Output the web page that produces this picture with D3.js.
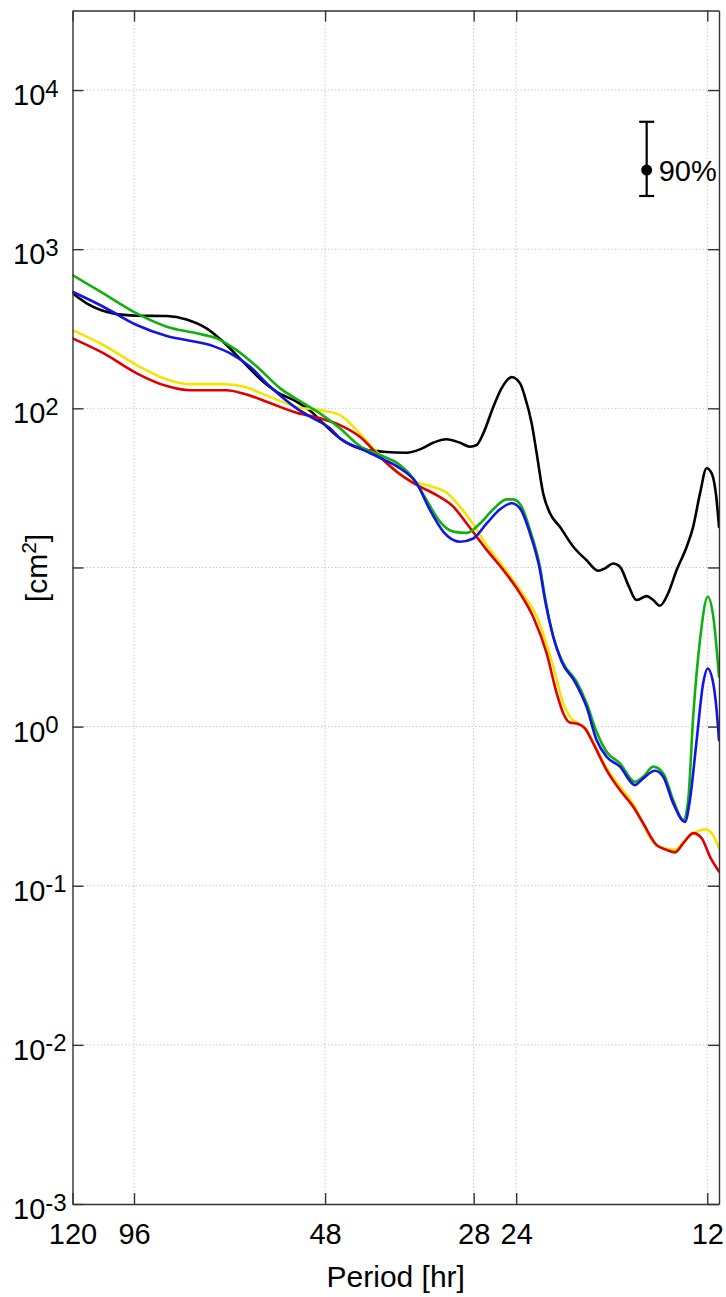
<!DOCTYPE html>
<html><head><meta charset="utf-8">
<script src="https://cdn.jsdelivr.net/npm/d3@7"></script>
<style>
body{margin:0;background:#fff}
svg{display:block}
text{font-family:"Liberation Sans",Arial,Helvetica,sans-serif;fill:#000}
</style>
</head><body>
<svg id="chart" width="726" height="1297"></svg>
<script>
// ---- data (period in hours, spectral value in cm^2) ----
const xTickPeriods = [120, 96, 48, 28, 24, 12];
const yTickValues = [1e-3, 1e-2, 1e-1, 1, 10, 100, 1e3, 1e4];
const yTickExponents = ["-3", "-2", "-1", "0", "1", "2", "3", "4"];
const yTickLabelShown = [true, true, true, true, false, true, true, true];
const xLabel = "Period [hr]";
const yLabel = "[cm";
const yLabelSup = "2";

const blackPeriod = [120, 114.0, 103.5, 95.07, 85.25, 79.34, 73.79, 69.48, 64.62, 60.07, 57.22, 53.22, 50.11, 48.91, 45.49, 42.31, 38.87, 35.71, 34.03, 32.43, 30.89, 29.43, 28.38, 27.70, 27.04, 26.08, 25.30, 24.40, 23.67, 23.25, 22.69, 22.28, 21.76, 21.23, 20.48, 19.51, 18.59, 17.82, 17.39, 16.88, 16.47, 15.98, 15.51, 14.95, 14.60, 14.25, 13.83, 13.41, 12.93, 12.63, 12.32, 12.03, 11.81, 11.60, 11.50];
const blackValue = [528, 457, 395, 382, 380, 362, 318, 262, 196, 147, 127, 110, 93.0, 84.4, 64.8, 56.0, 53.4, 52.6, 55.2, 60.8, 63.9, 60.8, 57.4, 58.8, 69.6, 102, 134, 157, 144, 118, 80.5, 52.1, 29.2, 21.9, 18.0, 13.5, 11.1, 9.54, 9.87, 10.6, 10.1, 7.75, 6.24, 6.61, 6.24, 5.75, 6.88, 9.63, 13.5, 18.0, 29.2, 42.0, 39.0, 26.5, 18.0];

const greenPeriod = [120, 107.3, 95.07, 85.25, 76.51, 71.16, 66.18, 61.49, 56.54, 51.96, 48.91, 45.49, 42.31, 39.34, 36.59, 34.87, 33.21, 31.65, 30.15, 28.72, 27.37, 26.08, 24.84, 24.26, 23.53, 22.83, 22.02, 21.62, 20.98, 20.23, 19.27, 18.59, 17.93, 17.29, 16.47, 15.60, 15.14, 14.60, 14.08, 13.58, 13.09, 12.86, 12.63, 12.32, 11.98, 11.74, 11.50];
const greenValue = [688, 528, 395, 326, 296, 275, 232, 183, 134, 108, 93.0, 74.9, 57.9, 50.9, 44.0, 36.3, 26.5, 19.4, 16.8, 16.5, 18.9, 23.2, 26.8, 26.8, 24.1, 17.2, 10.1, 6.52, 3.67, 2.50, 1.91, 1.40, 0.928, 0.695, 0.588, 0.450, 0.484, 0.560, 0.509, 0.346, 0.259, 0.346, 1.15, 3.50, 6.55, 4.90, 2.06];

const bluePeriod = [120, 107.3, 95.07, 85.25, 78.39, 72.04, 67.81, 63.07, 58.63, 53.22, 50.11, 47.16, 45.49, 42.31, 38.87, 36.59, 34.44, 32.82, 31.27, 29.43, 28.04, 26.71, 25.45, 24.40, 23.67, 22.83, 22.02, 21.62, 20.98, 20.35, 19.39, 18.59, 17.93, 17.29, 16.47, 15.60, 15.14, 14.51, 14.08, 13.58, 13.01, 12.78, 12.47, 12.18, 11.98, 11.77, 11.60, 11.50];
const blueValue = [540, 435, 334, 285, 266, 246, 222, 183, 137, 100, 86.5, 74.9, 64.8, 56.0, 47.8, 42.0, 33.8, 23.0, 16.8, 14.5, 15.2, 18.9, 23.2, 25.3, 23.5, 16.4, 9.63, 6.24, 3.67, 2.56, 1.91, 1.33, 0.823, 0.647, 0.560, 0.429, 0.473, 0.528, 0.484, 0.330, 0.252, 0.346, 0.823, 1.87, 2.32, 1.96, 1.27, 0.823];

const yellowPeriod = [120, 107.3, 95.07, 85.25, 78.39, 69.48, 64.62, 58.63, 53.22, 48.91, 45.49, 42.82, 40.31, 37.49, 35.29, 32.82, 30.89, 29.43, 28.04, 26.71, 25.15, 23.67, 22.15, 20.98, 20.23, 19.75, 19.16, 18.70, 17.29, 15.70, 14.42, 13.49, 12.93, 12.47, 12.10, 11.81, 11.50];
const yellowValue = [310, 250, 187, 152, 142, 142, 137, 118, 102, 97.5, 90.7, 73.0, 56.0, 42.0, 35.4, 32.5, 29.5, 24.1, 18.7, 13.8, 10.1, 7.21, 4.67, 2.38, 1.40, 1.15, 1.05, 0.975, 0.547, 0.326, 0.180, 0.168, 0.199, 0.218, 0.226, 0.214, 0.172];

const redPeriod = [120, 107.3, 95.07, 85.25, 78.39, 68.63, 64.62, 58.63, 53.22, 48.91, 45.49, 42.31, 39.34, 37.03, 34.44, 32.03, 30.15, 28.72, 26.71, 25.15, 23.67, 22.56, 21.49, 20.72, 20.23, 19.75, 19.16, 18.70, 18.15, 17.29, 16.47, 15.70, 15.14, 14.42, 13.91, 13.49, 13.09, 12.63, 12.25, 11.88, 11.50];
const redValue = [275, 222, 166, 138, 130, 130, 124, 108, 93.8, 86.5, 78.5, 66.3, 49.6, 40.0, 33.0, 28.5, 24.1, 18.9, 12.9, 9.63, 6.88, 4.88, 2.89, 1.62, 1.21, 1.06, 1.04, 0.975, 0.785, 0.533, 0.399, 0.314, 0.247, 0.180, 0.168, 0.162, 0.185, 0.214, 0.199, 0.152, 0.123];

// 90% confidence bar
const errPeriod = 14.95;
const errCenter = 3140;
const errLow = 2160;
const errHigh = 6320;
const errLabel = "90%";

// ---- layout ----
const L = 72.5, R = 719, T = 10.5, B = 1204;
const svg = d3.select("#chart");
svg.append("rect").attr("width", 726).attr("height", 1297).attr("fill", "#fff");

const x = d3.scaleLog().domain([120, 11.5]).range([L, R]);
const y = d3.scaleLog().domain([1e-3, Math.pow(10, 4.5)]).range([B, T]);

// grid
const grid = svg.append("g").attr("stroke", "#c4c4c4").attr("stroke-width", 0.9).attr("stroke-dasharray", "1.5,2");
grid.selectAll("line.gx").data(xTickPeriods.filter(p => p !== 120)).join("line")
  .attr("x1", d => x(d)).attr("x2", d => x(d)).attr("y1", T).attr("y2", B);
grid.selectAll("line.gy").data(yTickValues.filter(v => v > 1e-3 && v < Math.pow(10, 4.5))).join("line")
  .attr("x1", L).attr("x2", R).attr("y1", d => y(d)).attr("y2", d => y(d));

// curves
svg.append("clipPath").attr("id", "clip").append("rect")
  .attr("x", L).attr("y", T).attr("width", R - L).attr("height", B - T);

const series = [
  {color: "#000000", period: blackPeriod, value: blackValue},
  {color: "#f2e600", period: yellowPeriod, value: yellowValue},
  {color: "#e00000", period: redPeriod, value: redValue},
  {color: "#10b010", period: greenPeriod, value: greenValue},
  {color: "#1414e6", period: bluePeriod, value: blueValue}
];
const line = d3.line().x(d => x(d[0])).y(d => y(d[1])).curve(d3.curveMonotoneX);
const gLines = svg.append("g").attr("clip-path", "url(#clip)");
series.forEach(s => {
  gLines.append("path")
    .datum(s.period.map((p, i) => [p, s.value[i]]))
    .attr("fill", "none").attr("stroke", s.color).attr("stroke-width", 2.6)
    .attr("stroke-linejoin", "round").attr("stroke-linecap", "round")
    .attr("d", line);
});

// error bar
const eb = svg.append("g").attr("stroke", "#000").attr("stroke-width", 2.2);
const ex = x(errPeriod);
eb.append("line").attr("x1", ex).attr("x2", ex).attr("y1", y(errHigh)).attr("y2", y(errLow));
eb.append("line").attr("x1", ex - 7.5).attr("x2", ex + 7.5).attr("y1", y(errHigh)).attr("y2", y(errHigh));
eb.append("line").attr("x1", ex - 7.5).attr("x2", ex + 7.5).attr("y1", y(errLow)).attr("y2", y(errLow));
svg.append("circle").attr("cx", ex).attr("cy", y(errCenter)).attr("r", 5.5).attr("fill", "#000");
svg.append("text").attr("x", ex + 12).attr("y", y(errCenter) + 10.5)
  .attr("font-size", 29).text(errLabel);

// axes
const axisColor = "#333";
function styleAxis(g) {
  g.select(".domain").attr("stroke", axisColor).attr("stroke-width", 1.4);
  g.selectAll(".tick line").attr("stroke", axisColor).attr("stroke-width", 1.4);
}
const xb = svg.append("g").attr("transform", `translate(0,${B})`)
  .call(d3.axisBottom(x).tickValues(xTickPeriods).tickSizeInner(-11).tickSizeOuter(0).tickFormat(d3.format("d")));
styleAxis(xb);
xb.selectAll(".tick text").attr("y", 40).attr("dy", 0).attr("font-size", 29)
  .style("font-family", '"Liberation Sans",Arial,sans-serif').attr("fill", "#000");

const xt = svg.append("g").attr("transform", `translate(0,${T})`)
  .call(d3.axisTop(x).tickValues(xTickPeriods).tickSizeInner(-11).tickSizeOuter(0).tickFormat(""));
styleAxis(xt);

const yl = svg.append("g").attr("transform", `translate(${L},0)`)
  .call(d3.axisLeft(y).tickValues(yTickValues).tickSizeInner(-11).tickSizeOuter(0).tickFormat(""));
styleAxis(yl);
yl.selectAll(".tick text").remove();

const yr = svg.append("g").attr("transform", `translate(${R},0)`)
  .call(d3.axisRight(y).tickValues(yTickValues).tickSizeInner(-11).tickSizeOuter(0).tickFormat(""));
styleAxis(yr);

// y tick labels with superscripts
yTickValues.forEach((v, i) => {
  if (!yTickLabelShown[i]) return;
  const t = svg.append("text").attr("x", 13).attr("y", y(v) + 15).attr("font-size", 29);
  t.append("tspan").text("10");
  t.append("tspan").attr("dy", -8.5).attr("font-size", 24).text(yTickExponents[i]);
});

// axis labels
svg.append("text").attr("x", (L + R) / 2).attr("y", 1287).attr("text-anchor", "middle")
  .attr("font-size", 30).text(xLabel);
const yt = svg.append("text").attr("transform", `translate(47,568) rotate(-90)`)
  .attr("text-anchor", "middle").attr("font-size", 30);
yt.append("tspan").text(yLabel);
yt.append("tspan").attr("dy", -11).attr("font-size", 21).text(yLabelSup);
yt.append("tspan").attr("dy", 11).text("]");
</script>
</body></html>
